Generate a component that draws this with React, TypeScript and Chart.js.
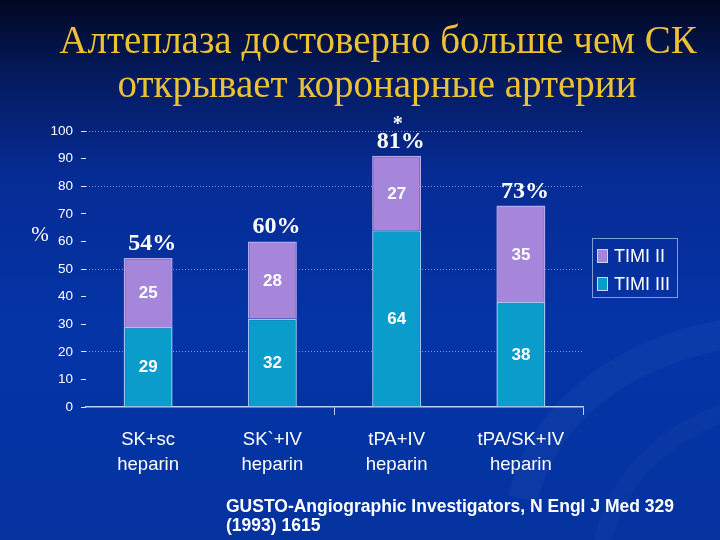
import React, { useEffect, useRef } from "react";
import { Chart, registerables } from "chart.js";

Chart.register(...registerables);

const categories = [
  ["SK+sc", "heparin"],
  ["SK`+IV", "heparin"],
  ["tPA+IV", "heparin"],
  ["tPA/SK+IV", "heparin"],
];
const timi3 = [29, 32, 64, 38];
const timi2 = [25, 28, 27, 35];
const totalLabels = ["54%", "60%", "81%", "73%"];
const starred = [false, false, true, false];
const yGridValues = [20, 50, 80, 100];
const titleLines = ["Алтеплаза достоверно больше чем СК", "открывает коронарные артерии"];
const footnoteLines = ["GUSTO-Angiographic Investigators, N Engl J Med 329", "(1993) 1615"];
const yAxisTitle = "%";

const TEAL = "#0A9CCB";
const LAVENDER = "#A586DA";

const backgroundPlugin = {
  id: "bg",
  beforeDraw(chart: any) {
    const { ctx, width, height } = chart;
    ctx.save();
    const g = ctx.createLinearGradient(0, 0, 0, height);
    g.addColorStop(0, "#010822");
    g.addColorStop(0.14, "#041a5e");
    g.addColorStop(0.32, "#062b94");
    g.addColorStop(0.6, "#0434a6");
    g.addColorStop(1, "#0433a0");
    ctx.fillStyle = g;
    ctx.fillRect(0, 0, width, height);
    ctx.strokeStyle = "rgba(120,150,220,0.07)";
    ctx.lineWidth = 30;
    ctx.beginPath();
    ctx.ellipse(780, 530, 260, 200, 0, Math.PI * 1.05, Math.PI * 1.6);
    ctx.stroke();
    ctx.strokeStyle = "rgba(120,150,220,0.05)";
    ctx.lineWidth = 18;
    ctx.beginPath();
    ctx.ellipse(800, 570, 200, 170, 0, Math.PI * 1.0, Math.PI * 1.55);
    ctx.stroke();
    ctx.restore();
  },
};

const textPlugin = {
  id: "texts",
  afterDatasetsDraw(chart: any) {
    const { ctx } = chart;
    ctx.save();
    ctx.textAlign = "center";
    ctx.textBaseline = "middle";
    ctx.fillStyle = "#ffffff";
    ctx.font = "bold 17px 'Liberation Sans', Arial, sans-serif";
    chart.data.datasets.forEach((ds: any, di: number) => {
      const meta = chart.getDatasetMeta(di);
      meta.data.forEach((bar: any, i: number) => {
        const y = (bar.y + bar.base) / 2;
        ctx.fillText(String(ds.data[i]), bar.x, y + 1);
      });
    });
    const topMeta = chart.getDatasetMeta(chart.data.datasets.length - 1);
    const totFont = "bold 24px 'Liberation Serif', 'Times New Roman', serif";
    ctx.font = totFont;
    ctx.textBaseline = "alphabetic";
    topMeta.data.forEach((bar: any, i: number) => {
      ctx.fillText(totalLabels[i], bar.x + 4, bar.y - 8);
      if (starred[i]) {
        ctx.font = "bold 20px 'Liberation Serif', serif";
        ctx.fillText("*", bar.x + 1, bar.y - 26);
        ctx.font = totFont;
      }
    });
    ctx.restore();
  },
  afterDraw(chart: any) {
    const { ctx } = chart;
    ctx.save();
    // Title
    ctx.fillStyle = "#EDC232";
    ctx.textAlign = "center";
    ctx.textBaseline = "alphabetic";
    ctx.font = "39px 'Liberation Serif', 'Times New Roman', serif";
    ctx.fillText(titleLines[0], 378, 53);
    ctx.fillText(titleLines[1], 377, 97);
    // y axis title
    ctx.fillStyle = "#ffffff";
    ctx.font = "21px 'Liberation Serif', serif";
    ctx.textBaseline = "middle";
    ctx.fillText(yAxisTitle, 40, 235);
    // footnote
    ctx.textAlign = "left";
    ctx.textBaseline = "alphabetic";
    ctx.font = "bold 17.5px 'Liberation Sans', Arial, sans-serif";
    ctx.fillText(footnoteLines[0], 226, 512);
    ctx.fillText(footnoteLines[1], 226, 531);
    // legend
    const lx = 592, ly = 238, lw = 85, lh = 59;
    ctx.strokeStyle = "#7e9ed8";
    ctx.lineWidth = 1;
    ctx.strokeRect(lx + 0.5, ly + 0.5, lw, lh);
    const items = [...chart.data.datasets].reverse();
    ctx.font = "18px 'Liberation Sans', Arial, sans-serif";
    ctx.textBaseline = "middle";
    items.forEach((ds: any, i: number) => {
      const cy = ly + 18 + i * 28;
      ctx.fillStyle = ds.backgroundColor;
      ctx.fillRect(lx + 5, cy - 7, 11, 14);
      ctx.strokeStyle = "#c8d8f4";
      ctx.strokeRect(lx + 5.5, cy - 6.5, 10, 13);
      ctx.fillStyle = "#ffffff";
      ctx.fillText(ds.label, lx + 22, cy + 1);
    });
    ctx.restore();
  },
};

export default function App() {
  const ref = useRef<HTMLCanvasElement>(null);
  useEffect(() => {
    if (!ref.current) return;
    const chart = new Chart(ref.current, {
      type: "bar",
      data: {
        labels: categories,
        datasets: [
          {
            label: "TIMI III",
            data: timi3,
            backgroundColor: TEAL,
            borderColor: "#9cc6f0",
            borderWidth: 1.5,
            barPercentage: 0.394,
            categoryPercentage: 1,
          },
          {
            label: "TIMI II",
            data: timi2,
            backgroundColor: LAVENDER,
            borderColor: "#b7a6ea",
            borderWidth: 1.5,
            barPercentage: 0.394,
            categoryPercentage: 1,
          },
        ],
      },
      options: {
        responsive: false,
        animation: false,
        layout: { padding: { top: 131, right: 137, bottom: 63, left: 0 } },
        plugins: { legend: { display: false }, tooltip: { enabled: false } },
        scales: {
          x: {
            stacked: true,
            afterFit: (s: any) => {
              s.height = 70;
            },
            grid: {
              display: true,
              drawOnChartArea: false,
              offset: true,
              tickLength: 8,
              color: (c: any) =>
                c.type === "scale" || c.index === 2 ? "#b8cff0" : "rgba(0,0,0,0)",
            },
            border: { display: true, color: "#b8cff0", width: 1.5 },
            ticks: {
              color: "#ffffff",
              padding: 12,
              maxRotation: 0,
              autoSkip: false,
              font: { family: "'Liberation Sans', Arial, sans-serif", size: 18.5, lineHeight: 1.37 },
            },
          },
          y: {
            stacked: true,
            min: 0,
            max: 100,
            afterFit: (s: any) => {
              s.width = 86;
            },
            grid: {
              display: true,
              tickLength: 5,
              color: (c: any) =>
                c.tick && yGridValues.includes(c.tick.value)
                  ? "rgba(160,185,230,0.75)"
                  : "rgba(0,0,0,0)",
              tickColor: "#dfe7ff",
              tickBorderDash: [],
              lineWidth: 1,
            },
            border: { display: false, dash: [1, 2] },
            ticks: {
              stepSize: 10,
              color: "#ffffff",
              padding: 8,
              font: { family: "'Liberation Sans', Arial, sans-serif", size: 13.5 },
            },
          },
        },
      },
      plugins: [backgroundPlugin, textPlugin],
    } as any);
    return () => chart.destroy();
  }, []);
  return (
    <div style={{ position: "fixed", left: 0, top: 0, width: 720, height: 540 }}>
      <canvas ref={ref} width={720} height={540} style={{ display: "block" }} />
    </div>
  );
}
